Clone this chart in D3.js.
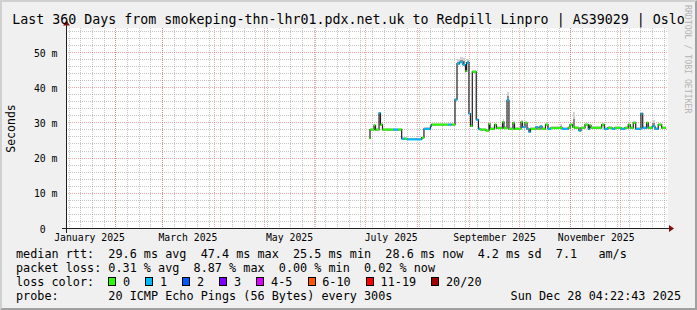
<!DOCTYPE html>
<html>
<head>
<meta charset="utf-8">
<script src="https://cdn.jsdelivr.net/npm/d3@7"></script>
<style>
  body { margin: 0; background: #f0f0f0; }
  svg { display: block; font-family: "DejaVu Sans Mono", monospace; }
  text { white-space: pre; }
</style>
</head>
<body>
<div class="visuals"></div>
<script>
var title = "Last 360 Days from smokeping-thn-lhr01.pdx.net.uk to Redpill Linpro | AS39029 | Oslo";
var rangeEnd = "2025-12-28T04:22:43Z";
var rangeDays = 360;

var yTicks = [0, 10, 20, 30, 40, 50];
var yTickLabels = ["0", "10 m", "20 m", "30 m", "40 m", "50 m"];
var xLabelMonths = ["2025-01-01", "2025-03-01", "2025-05-01", "2025-07-01", "2025-09-01", "2025-11-01"];

// median rtt (ms) per step, with loss colour class and top of the smoke
var times = [
  "2025-07-03 00:00", "2025-07-03 14:00", "2025-07-06 00:00", "2025-07-06 21:00", "2025-07-09 00:00",
  "2025-07-09 21:00", "2025-07-11 02:00", "2025-07-17 09:00", "2025-07-20 09:00", "2025-07-22 14:00",
  "2025-07-24 14:00", "2025-07-25 19:00", "2025-08-03 14:00", "2025-08-04 23:00", "2025-08-08 21:00",
  "2025-08-09 11:00", "2025-08-19 09:00", "2025-08-21 14:00", "2025-08-23 14:00", "2025-08-24 19:00",
  "2025-08-26 07:00", "2025-08-28 09:00", "2025-08-29 21:00", "2025-08-30 14:00", "2025-08-31 23:00",
  "2025-09-01 21:00", "2025-09-02 23:00", "2025-09-05 08:00", "2025-09-06 16:00", "2025-09-07 14:00",
  "2025-09-11 04:00", "2025-09-12 23:00", "2025-09-13 14:00", "2025-09-16 07:00", "2025-09-17 11:00",
  "2025-09-21 02:00", "2025-09-21 23:00", "2025-09-23 19:00", "2025-09-24 23:00", "2025-09-27 09:00",
  "2025-09-28 07:00", "2025-10-02 04:00", "2025-10-03 02:00", "2025-10-04 14:00", "2025-10-05 19:00",
  "2025-10-06 23:00", "2025-10-07 21:00", "2025-10-11 04:00", "2025-10-12 09:00", "2025-10-13 14:00",
  "2025-10-14 19:00", "2025-10-16 21:00", "2025-10-18 09:00", "2025-10-20 04:00", "2025-10-25 14:00",
  "2025-10-26 19:00", "2025-10-30 13:00", "2025-10-31 14:00", "2025-11-02 02:00", "2025-11-03 07:00",
  "2025-11-05 23:00", "2025-11-07 04:00", "2025-11-09 14:00", "2025-11-11 13:00", "2025-11-12 07:00",
  "2025-11-13 04:00", "2025-11-19 14:00", "2025-11-21 04:00", "2025-11-23 09:00", "2025-11-25 19:00",
  "2025-11-27 14:00", "2025-12-01 04:00", "2025-12-03 14:00", "2025-12-05 13:00", "2025-12-06 18:00",
  "2025-12-08 13:00", "2025-12-10 00:00", "2025-12-13 04:00", "2025-12-14 05:00", "2025-12-16 14:00",
  "2025-12-17 13:00", "2025-12-19 23:00", "2025-12-21 14:00", "2025-12-23 13:00", "2025-12-25 14:00",
  "2025-12-27 14:00"
];
var median = [
  25.6, 28.1, 29.3, 28.1, 32.8, 29.5, 28.1, 28.1, 28.1, 25.5,
  25.5, 25.3, 25.8, 28.3, 29.1, 29.5, 29.5, 29.5, 36.6, 46.8,
  47.2, 46.5, 44.7, 47.1, 32.6, 29.1, 44.5, 30.9, 28.3, 28.1,
  27.8, 29.7, 28.3, 29.5, 28.5, 30.2, 28.5, 36.4, 28.3, 29.9,
  28.3, 30.2, 28.8, 30.0, 28.3, 27.4, 28.3, 28.8, 28.3, 29.0,
  28.3, 29.5, 28.3, 28.5, 28.6, 28.3, 28.6, 29.5, 28.8, 28.6,
  27.8, 28.6, 29.5, 28.3, 29.3, 28.6, 29.5, 28.3, 28.6, 28.3,
  28.6, 28.3, 28.6, 29.5, 28.6, 30.0, 28.3, 32.6, 28.6, 30.0,
  28.6, 29.0, 28.3, 29.5, 28.6, 28.6
];
var loss = [
  0, 0, 0, 0, 1, 0, 0, 1, 0, 1,
  0, 1, 0, 1, 1, 0, 1, 0, 1, 1,
  1, 1, 0, 1, 1, 0, 0, 1, 1, 0,
  0, 0, 0, 0, 0, 0, 0, 1, 0, 0,
  0, 0, 1, 0, 1, 1, 0, 1, 0, 1,
  0, 0, 1, 0, 0, 1, 0, 0, 0, 0,
  1, 0, 0, 1, 0, 0, 0, 1, 0, 1,
  0, 1, 0, 0, 0, 0, 1, 1, 1, 0,
  0, 1, 1, 0, 0, 0
];
var smokeTop = [
  26.0, 28.6, 29.8, 28.6, 33.2, 29.9, 28.6, 28.6, 28.6, 25.9,
  25.9, 25.7, 26.2, 28.8, 29.5, 29.9, 29.9, 29.9, 37.2, 48.0,
  48.6, 48.4, 46.0, 48.2, 33.4, 29.6, 45.0, 31.4, 28.8, 28.6,
  28.3, 30.2, 28.8, 30.0, 29.0, 31.2, 29.0, 38.7, 28.8, 30.4,
  28.8, 30.8, 29.2, 30.6, 28.8, 27.9, 28.8, 29.2, 28.8, 29.5,
  28.8, 30.0, 28.8, 29.0, 29.7, 28.8, 29.0, 30.0, 33.2, 29.0,
  28.3, 29.0, 30.0, 28.8, 29.7, 29.0, 30.0, 28.8, 29.0, 28.8,
  29.0, 28.8, 29.0, 30.0, 29.0, 30.4, 28.8, 33.0, 29.0, 30.4,
  29.0, 30.7, 28.8, 30.0, 29.0, 29.0
];

var lossLabels = ["0", "1", "2", "3", "4-5", "6-10", "11-19", "20/20"];
var lossColors = ["#26ff00", "#00b8ff", "#0059ff", "#7e00ff", "#dd00ff", "#ff5500", "#ff0000", "#a10000"];

var statLines = [
  "median rtt:  29.6 ms avg  47.4 ms max  25.5 ms min  28.6 ms now  4.2 ms sd  7.1   am/s",
  "packet loss: 0.31 % avg  8.87 % max  0.00 % min  0.02 % now"
];
var lossTitle = "loss color:";
var probeLine = "probe:       20 ICMP Echo Pings (56 Bytes) every 300s";
var stamp = "Sun Dec 28 04:22:43 2025";
var watermark = "RRDTOOL / TOBI OETIKER";

var Smokechart = (function(){

  return function(selector){
    var W = 697, H = 310;
    var L = 66, R = 666, T = 28.5, B = 228.5;
    var yMax = 56.8;
    var legendFont = 11.8, charW = legendFont * 0.602;

    var px = function(v){ return Math.floor(v) + 0.5; };
    var parse = d3.utcParse("%Y-%m-%d %H:%M");
    var end = new Date(rangeEnd);
    var start = d3.utcDay.offset(end, -rangeDays);

    var x = d3.scaleUtc().domain([start, end]).range([L, R]);
    var y = d3.scaleLinear().domain([0, yMax]).range([B, T]);

    var svg = d3.select(selector).append('svg')
      .attr('width', W)
      .attr('height', H);

    svg.append('rect')
      .attr('width', W).attr('height', H)
      .attr('fill', '#f0f0f0');

    // rrdtool style frame shading
    svg.append('polygon')
      .attr('points', [[0,0],[W,0],[W-2,2],[2,2],[2,H-2],[0,H]].join(' '))
      .attr('fill', '#d0d0d0');
    svg.append('polygon')
      .attr('points', [[0,H],[W,H],[W,0],[W-2,2],[W-2,H-2],[2,H-2]].join(' '))
      .attr('fill', '#a0a0a0');

    svg.append('rect')
      .attr('x', L).attr('y', 28)
      .attr('width', R - L + 2).attr('height', 200)
      .attr('fill', '#ffffff');

    var grid = svg.append('g').attr('shape-rendering', 'crispEdges');

    var minorY = d3.range(2, yMax, 2).filter(function(v){ return v % 10 !== 0; });
    grid.selectAll('line.hmin').data(minorY).enter().append('line')
      .attr('x1', L).attr('x2', R + 1)
      .attr('y1', function(d){ return px(y(d)); })
      .attr('y2', function(d){ return px(y(d)); })
      .style('stroke', 'rgba(144,144,144,0.5)')
      .style('stroke-dasharray', '1,1');

    grid.selectAll('line.vmin').data(d3.utcSaturday.range(start, end)).enter().append('line')
      .attr('x1', function(d){ return px(x(d)); })
      .attr('x2', function(d){ return px(x(d)); })
      .attr('y1', 28).attr('y2', B)
      .style('stroke', 'rgba(144,144,144,0.5)')
      .style('stroke-dasharray', '1,1');

    grid.selectAll('line.hmaj').data(yTicks.slice(1)).enter().append('line')
      .attr('x1', L).attr('x2', R + 1)
      .attr('y1', function(d){ return px(y(d)); })
      .attr('y2', function(d){ return px(y(d)); })
      .style('stroke', 'rgba(224,80,80,0.5)')
      .style('stroke-dasharray', '1,1');

    grid.selectAll('line.vmaj').data(d3.utcMonth.range(start, end)).enter().append('line')
      .attr('x1', function(d){ return px(x(d)); })
      .attr('x2', function(d){ return px(x(d)); })
      .attr('y1', 28).attr('y2', B)
      .style('stroke', 'rgba(224,80,80,0.5)')
      .style('stroke-dasharray', '1,1');

    // data
    var pts = times.map(function(t, i){
      return { t: parse(t), v: median[i], loss: loss[i], top: smokeTop[i] };
    });
    pts.forEach(function(d, i){ d.t2 = i < pts.length - 1 ? pts[i + 1].t : end; });

    var smoke = svg.append('g').attr('shape-rendering', 'crispEdges');
    smoke.selectAll('rect.light').data(pts).enter().append('rect')
      .attr('x', function(d){ return x(d.t); })
      .attr('width', function(d){ return Math.max(1, x(d.t2) - x(d.t)); })
      .attr('y', function(d){ return y(d.top); })
      .attr('height', function(d){ return y(d.v - 0.3) - y(d.top); })
      .attr('fill', '#d2d2d2');
    smoke.selectAll('rect.dark').data(pts.filter(function(d){ return d.top - d.v > 1; })).enter().append('rect')
      .attr('x', function(d){ return x(d.t); })
      .attr('width', function(d){ return Math.max(1, x(d.t2) - x(d.t)); })
      .attr('y', function(d){ return y(d.v + (d.top - d.v) * 0.5); })
      .attr('height', function(d){ return y(d.v) - y(d.v + (d.top - d.v) * 0.5); })
      .attr('fill', '#8a8a8a');

    var step = d3.line()
      .x(function(d){ return x(d.t); })
      .y(function(d){ return y(d.v); })
      .curve(d3.curveStepAfter);

    svg.append('path')
      .datum(pts.concat([{ t: end, v: pts[pts.length - 1].v }]))
      .attr('d', step)
      .style('fill', 'none')
      .style('stroke', '#202020')
      .style('stroke-width', '1.2px');

    svg.append('g').selectAll('line').data(pts).enter().append('line')
      .attr('x1', function(d){ return x(d.t); })
      .attr('x2', function(d){ return x(d.t2); })
      .attr('y1', function(d){ return y(d.v); })
      .attr('y2', function(d){ return y(d.v); })
      .style('stroke', function(d){ return lossColors[d.loss]; })
      .style('stroke-width', '2px');

    // axes
    var axisColor = '#202020', arrowColor = '#801010';
    svg.append('line')
      .attr('x1', L - 4).attr('x2', R + 4).attr('y1', B).attr('y2', B)
      .style('stroke', axisColor).attr('shape-rendering', 'crispEdges');
    svg.append('line')
      .attr('x1', L + 0.5).attr('x2', L + 0.5).attr('y1', B + 4).attr('y2', T - 4)
      .style('stroke', axisColor).attr('shape-rendering', 'crispEdges');
    svg.append('polygon')
      .attr('points', [[R + 3, B - 3.5], [R + 3, B + 3.5], [R + 8, B]].join(' '))
      .attr('fill', arrowColor);
    svg.append('polygon')
      .attr('points', [[L - 3, T - 3], [L + 4, T - 3], [L + 0.5, T - 8]].join(' '))
      .attr('fill', arrowColor);

    var labelDates = xLabelMonths.map(function(m){ return d3.utcDay.offset(new Date(m + "T00:00:00Z"), 15); });
    var xAxis = d3.axisBottom(x)
      .tickValues(labelDates)
      .tickSize(0)
      .tickFormat(function(d){ return d3.utcFormat("%B %Y")(d3.utcMonth.floor(d)); });
    var gx = svg.append('g').attr('transform', 'translate(0,241)').call(xAxis);
    gx.select('.domain').remove();
    gx.attr('font-family', null).attr('font-size', null);
    gx.selectAll('text')
      .attr('y', 0).attr('dy', null)
      .style('font-size', '9.8px')
      .style('fill', '#000');

    var yAxis = d3.axisLeft(y)
      .tickValues(yTicks)
      .tickSize(0)
      .tickFormat(function(d, i){ return yTickLabels[i]; });
    var gy = svg.append('g').attr('transform', 'translate(57.5,0)').call(yAxis);
    gy.select('.domain').remove();
    gy.attr('font-family', null).attr('font-size', null);
    gy.selectAll('text')
      .attr('x', function(d){ return d === 0 ? -2 * 9.8 * 0.602 : 0; })
      .attr('dy', '3.6')
      .style('font-size', '9.8px')
      .style('fill', '#000');

    svg.append('text')
      .attr('transform', 'translate(15,128.5) rotate(-90)')
      .attr('text-anchor', 'middle')
      .style('font-size', '11.5px')
      .text('Seconds');

    svg.append('text')
      .attr('x', 348.5).attr('y', 24.2)
      .attr('text-anchor', 'middle')
      .style('font-size', '13.3px')
      .text(title);

    svg.append('text')
      .attr('transform', 'translate(685,5) rotate(90)')
      .style('font-size', '8.2px')
      .style('fill', '#b4b4b4')
      .text(watermark);

    // legend
    var lg = svg.append('g').style('font-size', legendFont + 'px');
    lg.selectAll('text.stat').data(statLines).enter().append('text')
      .attr('x', 16)
      .attr('y', function(d, i){ return 258.3 + i * 14; })
      .text(function(d){ return d; });

    lg.append('text').attr('x', 16).attr('y', 286.3).text(lossTitle);
    var bx = 16 + 13 * charW;
    lossLabels.forEach(function(lab, i){
      lg.append('rect')
        .attr('x', Math.round(bx) + 0.5).attr('y', 277.5)
        .attr('width', 7).attr('height', 8)
        .style('fill', lossColors[i])
        .style('stroke', '#000')
        .style('stroke-width', '1px');
      lg.append('text').attr('x', bx + 14.7).attr('y', 286.3).text(lab);
      bx = bx + 14.7 + lab.length * charW + 15.2;
    });

    lg.append('text').attr('x', 16).attr('y', 300.3).text(probeLine);
    lg.append('text').attr('x', 681).attr('y', 300.3)
      .attr('text-anchor', 'end')
      .text(stamp);
  };

}());

document.addEventListener('DOMContentLoaded', function () {
  var chart = new Smokechart('.visuals');
});
</script>
</body>
</html>
